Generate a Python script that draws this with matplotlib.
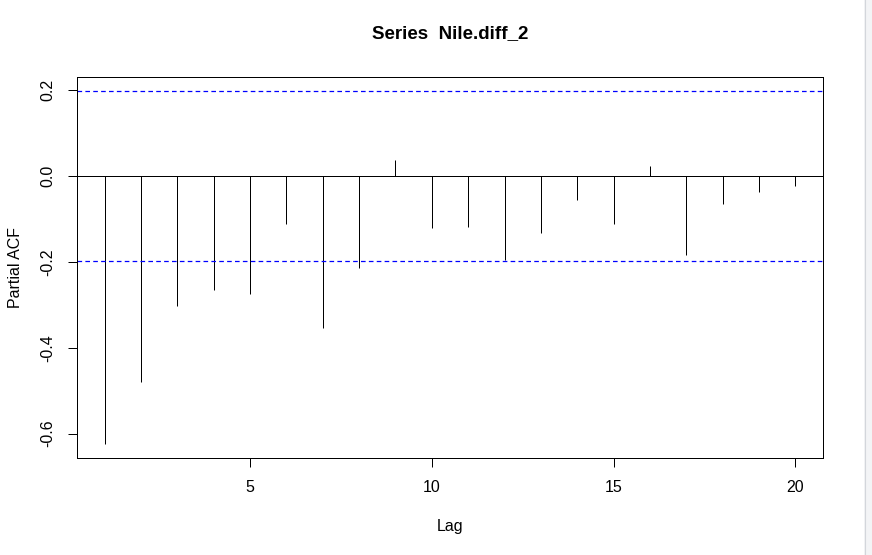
import matplotlib
matplotlib.use("Agg")
import matplotlib.pyplot as plt
from matplotlib.patches import Rectangle
import numpy as np

# partial autocorrelations
lags = list(range(1, 21))
pacf = [-0.624, -0.480, -0.302, -0.265, -0.274, -0.112, -0.354, -0.213,
        0.038, -0.120, -0.118, -0.196, -0.132, -0.055, -0.111, 0.024,
        -0.183, -0.066, -0.038, -0.024]
clim = 0.198
x_ticks = [5, 10, 15, 20]
y_ticks = [0.2, 0.0, -0.2, -0.4, -0.6]

plt.rcParams['font.family'] = ['Liberation Sans', 'DejaVu Sans']

lw = 0.72  # one pixel at 100 dpi
fig = plt.figure(figsize=(8.72, 5.55), dpi=100)
ax = fig.add_axes([77 / 872, 1 - 458 / 555, 746 / 872, 381 / 555])

ax.vlines(lags, 0, pacf, color='black', linewidth=lw, snap=True)
ax.axhline(0, color='black', linewidth=lw, snap=True)
for c in (clim, -clim):
    ax.axhline(c, color='#0000ff', linewidth=0.9, linestyle=(0, (3.7, 2.6)),
               snap=True)

# R default: 4% padding around data range
lo = min(min(pacf), -clim)
hi = max(max(pacf), clim)
pad = 0.04 * (hi - lo)
ax.set_ylim(lo - pad, hi + pad)
ax.set_xlim(1 - 0.04 * 19, 20 + 0.04 * 19)

ax.set_xticks(x_ticks)
ax.set_xticklabels([str(t) for t in x_ticks])
ax.set_yticks(y_ticks)
ax.set_yticklabels(['%.1f' % t for t in y_ticks], rotation=90, va='center')
ax.tick_params(direction='out', length=6.8, width=lw, labelsize=11.5, pad=9)
for s in ax.spines.values():
    s.set_linewidth(lw)

ax.set_xlabel('Lag', fontsize=11.5, labelpad=17)
ax.set_ylabel('Partial ACF', fontsize=11.5, labelpad=12)
fig.text(450 / 872, 1 - 34 / 555, 'Series  Nile.diff_2', ha='center', va='center',
         fontsize=13.5, fontweight='bold')

# browser scrollbar strip at the right edge
fig.patches.append(Rectangle((864 / 872, 0), 8 / 872, 1, transform=fig.transFigure,
                             facecolor='#f3f4f6', edgecolor='none'))
fig.lines.append(plt.Line2D([864.5 / 872, 864.5 / 872], [0, 1], transform=fig.transFigure,
                            color='#d3d6db', linewidth=0.8))

fig.savefig('out.png', dpi=100)
